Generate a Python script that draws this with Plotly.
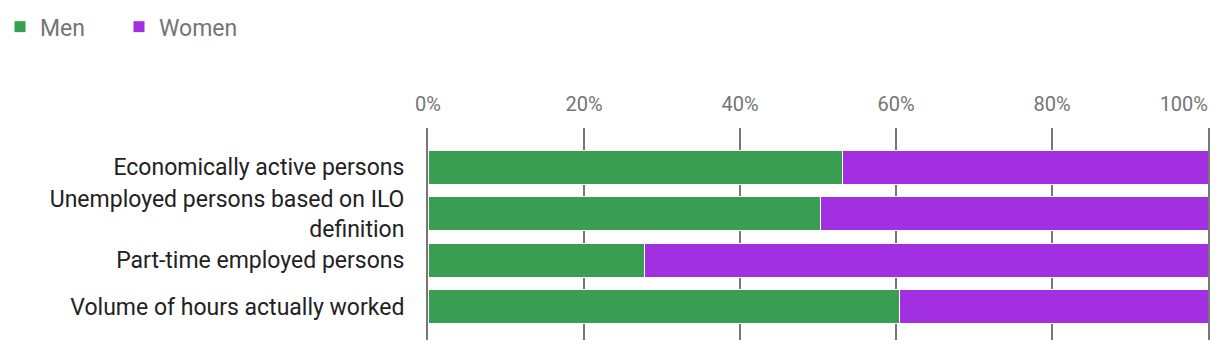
import plotly.graph_objects as go

categories = [
    "Economically active persons",
    "Unemployed persons based on ILO<br>definition",
    "Part-time employed persons",
    "Volume of hours actually worked",
]
men = [53.2, 50.3, 27.8, 60.4]
women = [46.8, 49.7, 72.2, 39.6]
tick_values = [0, 20, 40, 60, 80, 100]
tick_labels = ["0%", "20%", "40%", "60%", "80%", "100%"]

GREEN = "#3a9e52"
PURPLE = "#a230e0"
GRID = "#777777"
TICK_GREY = "#757575"
FONT = "Roboto"

fig = go.Figure()
fig.add_trace(go.Bar(
    y=categories, x=men, name="Men", orientation="h",
    marker=dict(color=GREEN, line=dict(color="white", width=1)),
))
fig.add_trace(go.Bar(
    y=categories, x=women, name="Women", orientation="h",
    marker=dict(color=PURPLE, line=dict(color="white", width=1)),
))
# empty helper trace so that the overlaying label axis is rendered
fig.add_trace(go.Scatter(
    x=[], y=[], xaxis="x2", yaxis="y", mode="markers",
    showlegend=False, hoverinfo="skip",
))

tick_font = dict(family=FONT, size=20, color=TICK_GREY)

fig.update_layout(
    barmode="stack",
    width=1220, height=350,
    margin=dict(l=428, r=12, t=128, b=10),
    plot_bgcolor="white", paper_bgcolor="white",
    font=dict(family=FONT, size=20, color="#222222"),
    bargap=0.267,
    showlegend=True,
    legend=dict(
        orientation="h", xref="container", yref="container",
        x=0, y=0.985, xanchor="left", yanchor="top",
        font=dict(family=FONT, size=23, color=TICK_GREY),
        traceorder="normal", entrywidth=74, entrywidthmode="pixels",
    ),
    # all but the last tick label centred on their gridline
    xaxis=dict(
        side="top", range=[0, 100],
        tickvals=tick_values[:-1], ticktext=tick_labels[:-1],
        showgrid=True, gridcolor=GRID, gridwidth=2,
        zeroline=False, showline=False, automargin=False,
        ticklabelstandoff=12,
        tickfont=tick_font,
        fixedrange=True,
    ),
    # last tick label right-aligned to the plot edge
    xaxis2=dict(
        side="top", overlaying="x", range=[0, 100],
        tickmode="array",
        tickvals=tick_values[-1:], ticktext=tick_labels[-1:],
        ticklabelposition="outside left", ticklabeloverflow="allow",
        showgrid=False, zeroline=False, showline=False, automargin=False,
        ticklabelstandoff=12,
        tickfont=tick_font,
        fixedrange=True,
    ),
    yaxis=dict(
        type="category", range=[3.72, -0.849],
        showgrid=False, zeroline=False,
        showline=True, mirror=True, linecolor=GRID, linewidth=2,
        ticks="", ticklabelstandoff=17, automargin=False,
        tickfont=dict(family=FONT, size=23, color="#222222"),
        fixedrange=True,
    ),
)

fig.write_html("out.html")
